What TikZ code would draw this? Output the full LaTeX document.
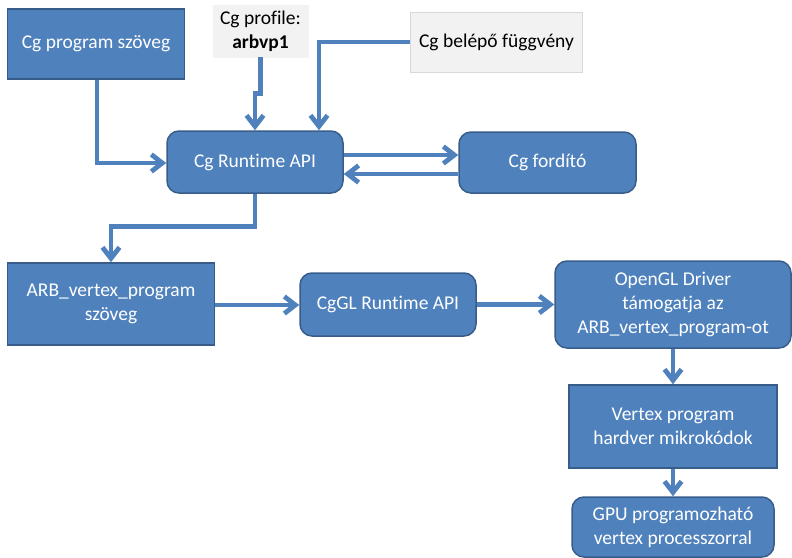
\documentclass[tikz,border=0pt]{standalone}
\usepackage{fontspec}
\setmainfont{Carlito}[Ligatures=NoCommon]
\usetikzlibrary{arrows.meta,calc}
\definecolor{boxblue}{HTML}{4F81BD}
\definecolor{boxedge}{HTML}{385D8A}
\definecolor{graybox}{HTML}{F2F2F2}
\definecolor{grayedge}{HTML}{D9D9D9}
\begin{document}
\begin{tikzpicture}[x=1pt,y=-1pt,
  font=\fontsize{19.5}{24}\selectfont,
  bluebox/.style={draw=boxedge,line width=1.5pt,fill=boxblue,text=white,align=center,inner sep=0pt},
  roundbox/.style={bluebox,rounded corners=12pt},
  graynote/.style={draw=grayedge,line width=0.8pt,fill=graybox,text=black,align=center,inner sep=0pt},
  conn/.style={draw=boxblue,line width=4.8pt,-{Straight Barb[length=11pt,width=17pt]}},
]
\useasboundingbox (0,0) rectangle (792,557);

\node[bluebox,minimum width=177pt,minimum height=70pt] (prog) at (96,44) {Cg program szöveg};
\node[graynote,draw=graybox,minimum width=95pt,minimum height=52pt] (profile) at (260.5,31) {Cg profile:\\\textbf{arbvp1}};
\node[graynote,minimum width=172pt,minimum height=60pt] (entry) at (496.5,42) {Cg belépő függvény};
\node[roundbox,minimum width=176pt,minimum height=62pt] (rt) at (255,162) {Cg Runtime API};
\node[roundbox,minimum width=177pt,minimum height=61pt] (comp) at (547.5,162.5) {Cg fordító};
\node[bluebox,minimum width=207pt,minimum height=82pt] (arb) at (111,304) {ARB\_vertex\_program\\szöveg};
\node[roundbox,minimum width=176pt,minimum height=63pt] (cggl) at (388,304.5) {CgGL Runtime API};
\node[roundbox,minimum width=236pt,minimum height=87pt] (ogl) at (673,304.5) {OpenGL Driver\\támogatja az\\ARB\_vertex\_program-ot};
\node[bluebox,minimum width=208pt,minimum height=83pt] (vp) at (673,426.5) {Vertex program\\hardver mikrokódok};
\node[roundbox,minimum width=202pt,minimum height=60pt] (gpu) at (673,527) {GPU programozható\\vertex processzorral};

\draw[conn] ([xshift=1pt]prog.south) |- ([yshift=-1pt]rt.west);
\draw[conn] (profile.south) -- ++(0,36) -| (rt.north);
\draw[conn] (entry.west) -| ($(rt.north)+(64,0)$);
\draw[conn] ($(rt.east)+(0,-7)$) -- ($(comp.west)+(0,-7.5)$);
\draw[conn] ($(comp.west)+(0,11.5)$) -- ($(rt.east)+(0,12)$);
\draw[conn] (rt.south) -- ++(0,33) -| (arb.north);
\draw[conn] ([yshift=-1pt]arb.east) -- ([yshift=-0.5pt]cggl.west);
\draw[conn] (cggl.east) -- (ogl.west);
\draw[conn] (ogl.south) -- (vp.north);
\draw[conn] (vp.south) -- (gpu.north);
\end{tikzpicture}
\end{document}
